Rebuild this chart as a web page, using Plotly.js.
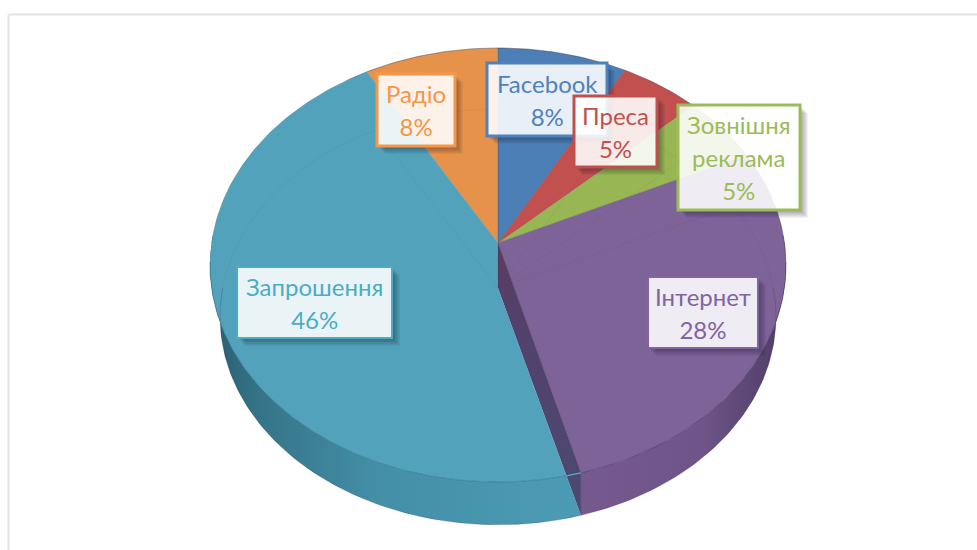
<!DOCTYPE html>
<html><head><meta charset="utf-8">
<script src="https://cdn.plot.ly/plotly-3.0.1.min.js"></script>
<style>html,body{margin:0;padding:0;background:#fff}#c{width:977px;height:550px}</style>
</head><body><div id="c"></div>
<script>
const categories = ['Facebook','Преса','Зовнішня<br>реклама','Інтернет','Запрошення','Радіо'];
const values = [8, 5, 5, 27.8, 45.9, 8.3];
const percentLabels = ['8%','5%','5%','28%','46%','8%'];
const topColors = ['#4C7FB6','#C2504F','#98B653','#7E6399','#52A2BB','#E6924A'];
const textColors = ['#4F81BD','#C0504D','#9BBB59','#8064A2','#4BACC6','#F79646'];
const borderWidths = [3,3,3,2,2,3];
// label boxes: left, top, right, bottom in chart pixels
const boxFacebook = [487,63,607,136];
const boxPress = [574,96,657,167];
const boxOutdoor = [678,105,800,210];
const boxInternet = [648,277,758,348];
const boxInvite = [237,267,392,338];
const boxRadio = [377,74,455,146];
const boxes = [boxFacebook,boxPress,boxOutdoor,boxInternet,boxInvite,boxRadio];
const paintOrder = [5,0,1,2,4,3];

// projection of the pie's top and bottom discs
const topDisc = {cx:498, cy:243, P:286.5, Q:214.8, k:0.1014};
const botDisc = {cx:498, cy:288, P:275.3, Q:203.9, k:0.139};
function rim(d, deg){
  const t = deg*Math.PI/180, w = 1 + d.k*Math.cos(t);
  return [d.cx + d.P*Math.sin(t)/w, d.cy - d.Q*Math.cos(t)/w];
}
function arc(d, a, b){
  const n = Math.max(2, Math.ceil(Math.abs(b-a))), out = [];
  for(let i=0;i<=n;i++) out.push(rim(d, a+(b-a)*i/n));
  return out;
}
const edges = [0];
values.forEach(v => edges.push(edges[edges.length-1] + v*3.6));

function poly(pts, fill, line, extra){
  return Object.assign({type:'scatter', mode:'lines', hoverinfo:'skip', showlegend:false,
    x:pts.map(p=>p[0]), y:pts.map(p=>p[1]), fill:'toself', fillcolor:fill,
    line:line||{width:0}}, extra||{});
}
function stroke(pts, color, width){
  return {type:'scatter', mode:'lines', hoverinfo:'skip', showlegend:false,
    x:pts.map(p=>p[0]), y:pts.map(p=>p[1]), line:{color:color, width:width}};
}
const apexT = [topDisc.cx, topDisc.cy], apexB = [botDisc.cx, botDisc.cy];
const traces = [];

// side wall of "Інтернет"
const iB = edges[4];
traces.push(poly(arc(topDisc, 88, iB).concat(arc(botDisc, iB, 88)), '#6b5085', null,
  {fillgradient:{type:'horizontal', start:575, stop:785,
    colorscale:[[0,'#75598f'],[0.6,'#6f5489'],[1,'#4f3d66']]}}));

// flat slices
[0,1,2,3,5].forEach(i=>{
  const pts = [apexT].concat(arc(topDisc, edges[i], edges[i+1]));
  pts.push(apexT);
  traces.push(poly(pts, topColors[i], {color:'rgba(60,50,70,0.35)', width:0.5}));
});

// dark cut face of "Інтернет"
const rimT = rim(topDisc, iB), rimB = rim(botDisc, iB);
traces.push(poly([apexT, rimT, rimB, apexB, apexT], '#4C4470', {color:'rgba(60,50,90,0.6)', width:0.5},
  {fillgradient:{type:'vertical', start:243, stop:515,
    colorscale:[[0,'#5e3c5e'],[0.25,'#53406b'],[1,'#4b4a72']]}}));

// where the invite slice's edge meets the top rim
let seam = iB;
for(let a=iB; a<200; a+=0.1){
  const p = rim(topDisc, a);
  const c = (rimB[0]-apexB[0])*(p[1]-apexB[1]) - (rimB[1]-apexB[1])*(p[0]-apexB[0]);
  if(c > 0){ seam = a; break; }
}
const seamPt = rim(topDisc, seam);
// side wall of "Запрошення"
traces.push(poly(arc(topDisc, seam, 272).concat(arc(botDisc, 272, iB)).concat([seamPt]), '#418aa3', null,
  {fillgradient:{type:'horizontal', start:215, stop:580,
    colorscale:[[0,'#2a5f74'],[0.12,'#357488'],[0.45,'#448fa8'],[1,'#4c9bb5']]}}));
// top of "Запрошення"
traces.push(poly([apexT, apexB, seamPt].concat(arc(topDisc, seam, edges[5])).concat([apexT]), topColors[4], {width:0}));

// rim highlights
traces.push(stroke(arc(topDisc, seam, 265), 'rgba(40,110,135,0.6)', 1));
traces.push(stroke(arc(topDisc, iB, seam), '#56a9c2', 1.4));
traces.push(stroke(arc(topDisc, 95, iB), 'rgba(70,50,100,0.6)', 0.8));
traces.push(stroke(arc(topDisc, -35, 92), 'rgba(60,60,70,0.4)', 0.8));
traces.push(stroke(arc(topDisc, -90, -35), 'rgba(60,80,90,0.18)', 0.8));
traces.push(stroke(arc(botDisc, 90, 270), 'rgba(30,30,50,0.25)', 0.7));

// ghost of the bottom disc seen through the top
traces.push(stroke(arc(botDisc, -95, 95), 'rgba(40,30,60,0.055)', 1));
edges.slice(0,6).forEach(e=>{
  if(e===edges[4]) return;
  traces.push(stroke([apexB, rim(botDisc, e)], 'rgba(40,30,60,0.05)', 1));
});

// labels
const shapes = [
  {type:'line', xref:'x', yref:'y', x0:8.5, x1:977, y0:14.5, y1:14.5, line:{color:'#e2e2e2', width:2}, layer:'below'},
  {type:'line', xref:'x', yref:'y', x0:8.5, x1:8.5, y0:14.5, y1:550, line:{color:'#e2e2e2', width:2}, layer:'below'}
];
const annotations = [];
function shadow(b, o){
  return `M${b[2]+1},${b[1]+o} L${b[2]+o},${b[1]+o} L${b[2]+o},${b[3]+o} L${b[0]+o},${b[3]+o} L${b[0]+o},${b[3]+1} L${b[2]+1},${b[3]+1} Z`;
}
paintOrder.forEach(i=>{
  const b = boxes[i];
  [8,7,6,5,4,3,2].forEach(o=>shapes.push({type:'path', xref:'x', yref:'y', path:shadow(b,o), fillcolor:'rgba(20,20,30,0.055)', line:{width:0}, layer:'above'}));
  shapes.push({type:'rect', xref:'x', yref:'y', x0:b[0], x1:b[2], y0:b[1], y1:b[3],
    fillcolor:'rgba(255,255,255,0.88)', line:{color:textColors[i], width:borderWidths[i]}, layer:'above'});
  const lines = (categories[i]+'<br>'+percentLabels[i]).split('<br>').map(s=>`<span style="font-size:24px">${s}</span>`).join('<br>');
  annotations.push({xref:'x', yref:'y', x:(b[0]+b[2])/2, y:(b[1]+b[3])/2, xanchor:'center', yanchor:'middle',
    text:lines, showarrow:false, align:'center',
    font:{family:'Lato, "Open Sans", sans-serif', size:25.5, color:textColors[i]}});
});

Plotly.newPlot('c', traces, {
  width:977, height:550, margin:{l:0,r:0,t:0,b:0}, paper_bgcolor:'#fff', plot_bgcolor:'#fff', showlegend:false,
  xaxis:{range:[0,977], visible:false, fixedrange:true},
  yaxis:{range:[550,0], visible:false, fixedrange:true},
  shapes, annotations
}, {displayModeBar:false, staticPlot:true});
</script></body></html>
